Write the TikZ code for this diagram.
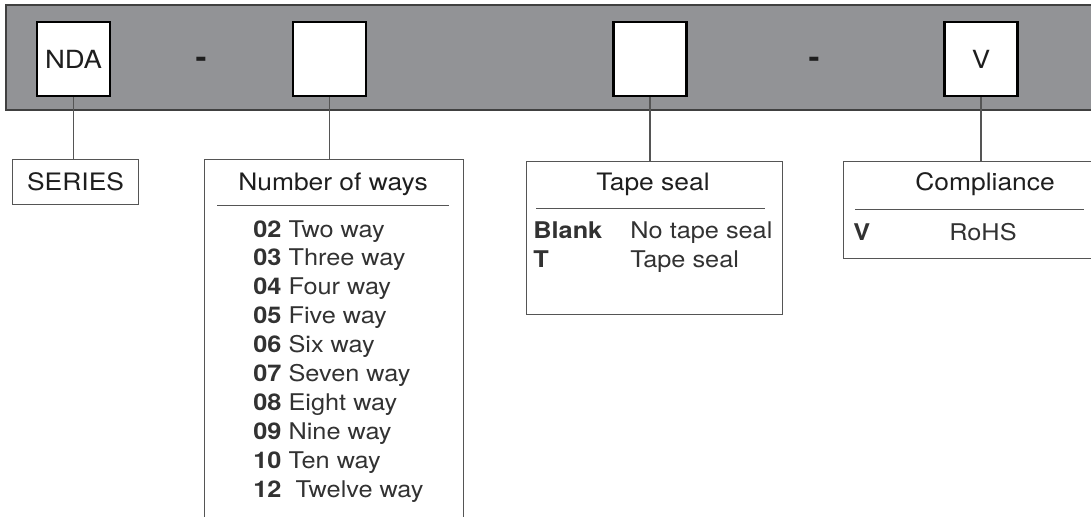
\documentclass[tikz,border=0pt]{standalone}
\usepackage{fontspec}
\setmainfont[FakeStretch=1.1]{TeX Gyre Heros}
\usetikzlibrary{positioning}

\definecolor{bargray}{RGB}{146,147,150}
\definecolor{linegray}{RGB}{85,85,85}
\definecolor{ink}{RGB}{30,30,30}
\definecolor{softink}{RGB}{50,50,50}

\tikzset{
  codebox/.style={draw=black, line width=1.3pt, fill=white, minimum width=36.5pt,
    minimum height=37pt, inner sep=0pt, text=ink, font=\fontsize{12.5}{14}\selectfont},
  lblbox/.style={draw=linegray, line width=0.55pt, anchor=north west, inner sep=0pt},
  link/.style={draw=linegray, line width=0.55pt},
  sepline/.style={draw=linegray, line width=0.5pt},
  heading/.style={anchor=base, inner sep=0pt, text=ink, font=\fontsize{12}{14}\selectfont},
  entry/.style={anchor=base west, inner sep=0pt, text=softink, font=\fontsize{11.5}{13}\selectfont},
  dashmark/.style={inner sep=0pt, text=ink, font=\fontsize{15}{16}\bfseries}
}

\begin{document}
\begin{tikzpicture}[x=0.5pt, y=-0.5pt]
  \useasboundingbox (0,0) rectangle (1091,516);
  \clip (0,0) rectangle (1091,516);

  % part number bar
  \draw[fill=bargray, draw=black!75, line width=0.6pt] (6,5) rectangle (1100,110);
  \node[codebox] (nda) at (73.5,59) {NDA};
  \node[dashmark] (dasha) at (201,62) {-};
  \node[codebox] (ways) at (329.5,59) {};
  \node[codebox] (tape) at (650,59) {};
  \node[dashmark] (dashb) at (814,62) {-};
  \node[codebox] (comp) at (981,59) {V};

  % description boxes
  \node[lblbox, minimum width=63pt, minimum height=22.5pt] (serieslbl) at (12,159) {};
  \node[heading, anchor=center] at (serieslbl.center) {SERIES};

  \node[lblbox, minimum width=129.5pt, minimum height=190pt] (wayslbl) at (204,159) {};
  \node[heading] (waystitle) at (333,190) {Number of ways};
  \draw[sepline] (217,205) -- (449,205);
  \foreach \code/\desc [count=\i from 0] in {02/Two way, 03/Three way, 04/Four way,
      05/Five way, 06/Six way, 07/Seven way, 08/Eight way, 09/Nine way,
      10/Ten way, 12/\ Twelve way}
    \node[entry] (way\i) at (253,{237+28.9*\i}) {\textbf{\code} \desc};

  \node[lblbox, minimum width=128pt, minimum height=76.5pt] (tapelbl) at (526,161) {};
  \node[heading] (tapetitle) at (653,190) {Tape seal};
  \draw[sepline] (536,208) -- (765,208);
  \node[entry] (blankcode) at (533,238) {\textbf{Blank}};
  \node[entry] (blankdesc) at (630,238) {No tape seal};
  \node[entry] (tcode) at (533,267) {\textbf{T}};
  \node[entry] (tdesc) at (630,267) {Tape seal};

  \node[lblbox, minimum width=130pt, minimum height=48.5pt] (complbl) at (843,161) {};
  \node[heading] (comptitle) at (985,190) {Compliance};
  \draw[sepline] (855,209) -- (1084,209);
  \node[entry] (vcode) at (853,240) {\textbf{V}};
  \node[entry] (vdesc) at (949,240) {RoHS};

  % connectors
  \draw[link] (nda.south) -- (nda.south |- serieslbl.north);
  \draw[link] (ways.south) -- (ways.south |- wayslbl.north);
  \draw[link] (tape.south) -- (tape.south |- tapelbl.north);
  \draw[link] (comp.south) -- (comp.south |- complbl.north);
\end{tikzpicture}
\end{document}
